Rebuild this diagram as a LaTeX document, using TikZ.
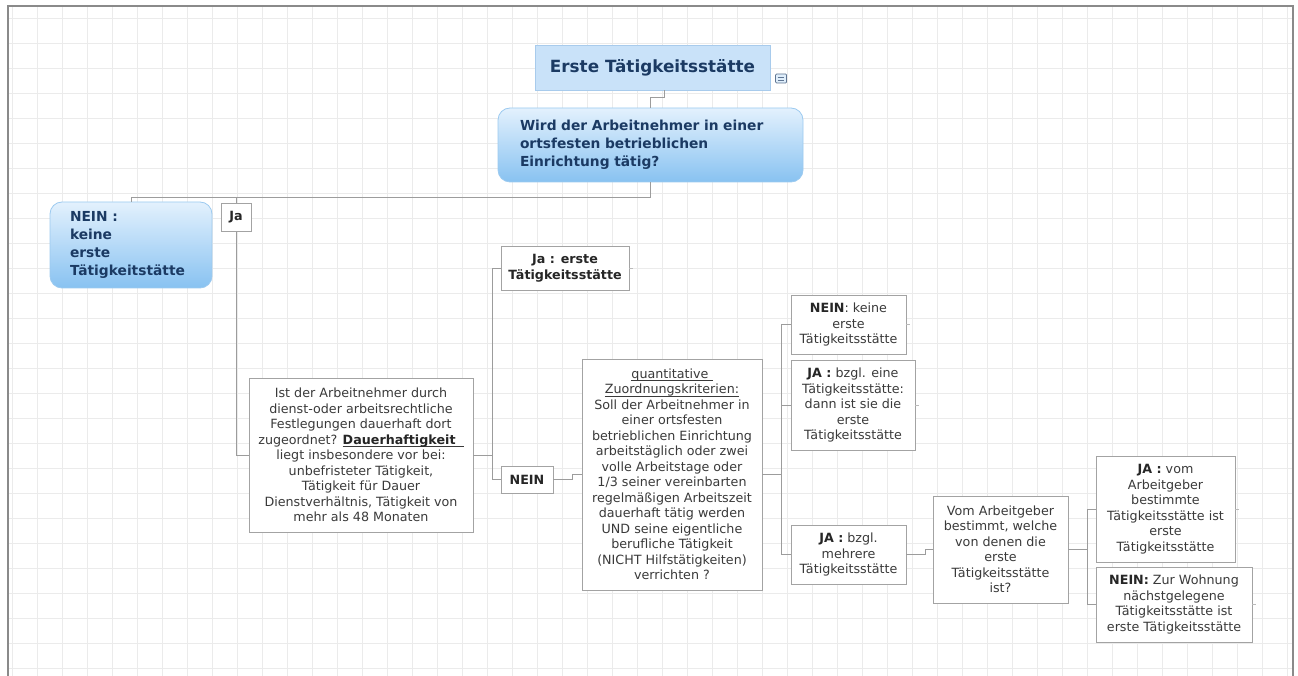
\documentclass[tikz,border=0pt]{standalone}
\usepackage{fontspec}
\setmainfont{DejaVu Sans}
\definecolor{gridc}{HTML}{EBEBEB}
\definecolor{framec}{HTML}{8A8A8A}
\definecolor{boxc}{HTML}{A3A3A3}
\definecolor{connc}{HTML}{9C9C9C}
\definecolor{txtc}{HTML}{3A3A3A}
\definecolor{navy}{HTML}{1B3A63}
\definecolor{titlefill}{HTML}{C9E2F9}
\definecolor{titledraw}{HTML}{A8CBEC}
\definecolor{qtop}{HTML}{E3F1FD}
\definecolor{qbot}{HTML}{88C2F1}
\definecolor{qdraw}{HTML}{9CCAF0}
\newcommand\bodyfnt{\fontsize{12.7}{15.5}\selectfont}
\newcommand\bluefnt{\fontsize{13.8}{18}\selectfont\bfseries}
\newcommand\myul[1]{\setbox0\hbox{#1}\rlap{\rule[-2.2pt]{\wd0}{0.6pt}}\box0}
\begin{document}
\begin{tikzpicture}[x=1pt,y=-1pt,
  gridline/.style={draw=gridc,line width=0.8pt},
  box/.style={draw=boxc,fill=white,line width=0.8pt,inner sep=0pt,align=center,text=txtc,font=\bodyfnt},
  bluebox/.style={draw=qdraw,line width=0.8pt,rounded corners=12pt,top color=qtop,bottom color=qbot,
     inner ysep=0pt,align=left,text=navy,font=\bluefnt},
  conn/.style={draw=connc,line width=0.9pt},
  stub/.style={draw=connc!70,line width=0.7pt}]
\useasboundingbox (0,0) rectangle (1298,676);
\fill[white] (0,0) rectangle (1298,676);
% grid
\foreach \x in {12,37,...,1290} \draw[gridline] (\x,7) -- (\x,676);
\foreach \y in {18,43,...,676} \draw[gridline] (9,\y) -- (1292,\y);
% frame
\draw[draw=framec,line width=1.4pt] (8,676) -- (8,6) -- (1293,6) -- (1293,676);

% nodes
\node[draw=titledraw,fill=titlefill,line width=0.8pt,minimum width=235,minimum height=45,inner sep=0pt,
      text=navy,font=\fontsize{16.8}{20}\selectfont\bfseries] (title) at (652.5,67.5) {Erste Tätigkeitsstätte};
\node[draw=navy!70,fill=titlefill!60,line width=0.7pt,minimum width=11,minimum height=9,inner sep=0pt,rounded corners=1pt] (icon) at (781,78.5) {};
\draw[navy!70,line width=0.6pt] ([xshift=2.5,yshift=-1.5]icon.west) -- ([xshift=-2.5,yshift=-1.5]icon.east)
  ([xshift=2.5,yshift=1.5]icon.west) -- ([xshift=-2.5,yshift=1.5]icon.east);

\node[bluebox,text width=261,inner xsep=22pt,minimum height=74] (q) at (650.5,145)
  {Wird der Arbeitnehmer in einer\\ortsfesten betrieblichen\\Einrichtung tätig?};
\node[bluebox,text width=122,inner xsep=20pt,minimum height=86] (nl) at (131,245)
  {NEIN :\\keine\\erste\\Tätigkeitstätte};
\node[box,minimum width=30,minimum height=28,font=\bodyfnt\bfseries,text=black!85] (ja) at (236,217.5) {Ja};

\node[box,minimum width=224,minimum height=154] (ist) at (361,455)
  {Ist der Arbeitnehmer durch\\dienst-oder arbeitsrechtliche\\Festlegungen dauerhaft dort\\zugeordnet? \myul{\textbf{\color{black!85}Dauerhaftigkeit}\ \ }\\liegt insbesondere vor bei:\\unbefristeter Tätigkeit,\\Tätigkeit für Dauer\\Dienstverhältnis, Tätigkeit von\\mehr als 48 Monaten};

\node[box,minimum width=128,minimum height=44,font=\bodyfnt\bfseries,text=black!85] (jae) at (565,268)
  {Ja : erste\\Tätigkeitsstätte};
\node[box,minimum width=52,minimum height=27,font=\bodyfnt\bfseries,text=black!85] (nein) at (527,479.5) {NEIN};

\node[box,minimum width=180,minimum height=231] (quant) at (672,474.5)
  {\myul{quantitative\ }\\\myul{Zuordnungskriterien:}\\Soll der Arbeitnehmer in\\einer ortsfesten\\betrieblichen Einrichtung\\arbeitstäglich oder zwei\\volle Arbeitstage oder\\1/3 seiner vereinbarten\\regelmäßigen Arbeitszeit\\dauerhaft tätig werden\\UND seine eigentliche\\berufliche Tätigkeit\\(NICHT Hilfstätigkeiten)\\verrichten ?};

\node[box,minimum width=115,minimum height=59] (nk) at (848.5,324.5)
  {\textbf{\color{black!85}NEIN}: keine\\erste\\Tätigkeitsstätte};
\node[box,minimum width=124,minimum height=90] (je) at (853,405)
  {\textbf{\color{black!85}JA :} bzgl. eine\\Tätigkeitsstätte:\\dann ist sie die\\erste\\Tätigkeitsstätte};
\node[box,minimum width=115,minimum height=59] (jm) at (848.5,554.5)
  {\textbf{\color{black!85}JA :} bzgl.\\mehrere\\Tätigkeitsstätte};

\node[box,minimum width=135,minimum height=107] (vom) at (1000.5,549.5)
  {Vom Arbeitgeber\\bestimmt, welche\\von denen die\\erste\\Tätigkeitsstätte\\ist?};
\node[box,minimum width=139,minimum height=106] (jv) at (1165.5,509)
  {\textbf{\color{black!85}JA :} vom\\Arbeitgeber\\bestimmte\\Tätigkeitsstätte ist\\erste\\Tätigkeitsstätte};
\node[box,minimum width=156,minimum height=75] (nz) at (1174,604.5)
  {\textbf{\color{black!85}NEIN:} Zur Wohnung\\nächstgelegene\\Tätigkeitsstätte ist\\erste Tätigkeitsstätte};

% connectors
\draw[conn] ([xshift=11.5]title.south) -- ++(0,7.5) -| (q.north);
\coordinate (b0) at (650.5,197);
\draw[conn] (q.south) -- (b0);
\draw[conn] (b0) -| (nl.north);
\draw[conn] (b0) -| (ja.north);
\draw[conn] (ja.south) |- (ist.west);
\coordinate (b1) at (492,455);
\draw[conn] (ist.east) -- (b1);
\draw[conn] (b1) |- (jae.west);
\draw[conn] (b1) |- (nein.west);
\draw[conn] (nein.east) -- ++(19,0) |- (quant.west);
\coordinate (b2) at (781,474.5);
\draw[conn] (quant.east) -- (b2);
\draw[conn] (b2) |- (nk.west);
\draw[conn] (b2) |- (je.west);
\draw[conn] (b2) |- (jm.west);
\draw[conn] (jm.east) -- ++(19,0) |- (vom.west);
\coordinate (b3) at (1087,549.5);
\draw[conn] (vom.east) -- (b3);
\draw[conn] (b3) |- (jv.west);
\draw[conn] (b3) |- (nz.west);
% collapsed-branch stubs
\foreach \n in {jae,nk,je,jv,nz} \draw[stub] (\n.east) -- ++(4,0);
\end{tikzpicture}
\end{document}
